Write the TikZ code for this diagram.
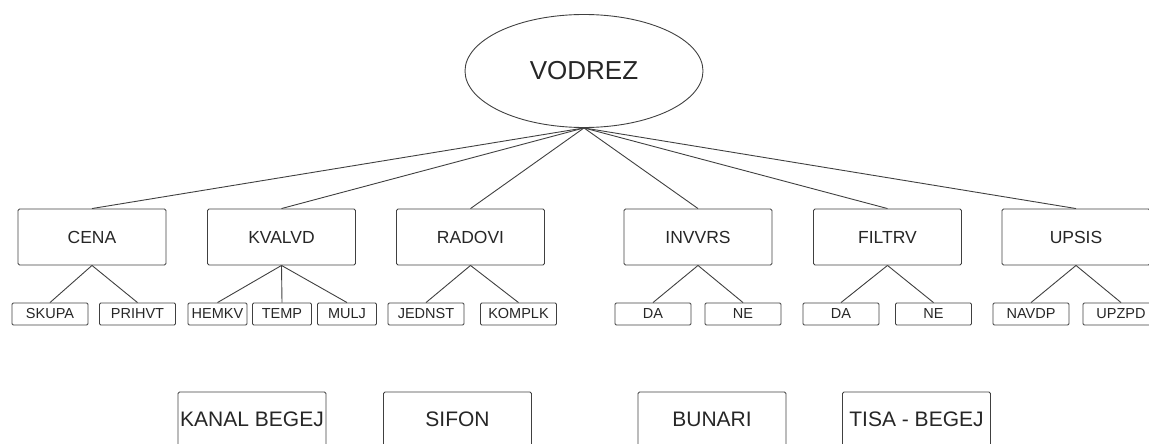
\documentclass[tikz,border=0pt]{standalone}
\usepackage{fontspec}
\setmainfont{Liberation Sans}
\usetikzlibrary{shapes.geometric}
\begin{document}
\begin{tikzpicture}[x=1pt,y=-1pt,
  every node/.style={text=black!85, inner sep=0pt},
  ln/.style={draw=black!75, line width=0.9pt},
  mainbox/.style={ln, rounded corners=1.5pt, minimum width=148pt, minimum height=56pt, font=\fontsize{17.5}{20}\selectfont},
  leafbox/.style={ln, rounded corners=1.2pt, minimum width=76pt, minimum height=22pt, font=\fontsize{14.5}{16}\selectfont},
  narrowleaf/.style={leafbox, minimum width=59pt},
  bottombox/.style={ln, rounded corners=1.5pt, minimum width=148pt, minimum height=54pt, font=\fontsize{21}{24}\selectfont},
  link/.style={ln}]
\useasboundingbox (0,0) rectangle (1149,444);
\clip (0,0) rectangle (1149,444);
\node[ellipse, ln, minimum width=238pt, minimum height=113pt, font=\fontsize{26}{30}\selectfont] (v) at (584,71) {VODREZ};
% main row
\node[mainbox] (cena) at (92,237) {CENA};
\node[mainbox] (kvalvd) at (281.5,237) {KVALVD};
\node[mainbox] (radovi) at (470.5,237) {RADOVI};
\node[mainbox] (invvrs) at (698,237) {INVVRS};
\node[mainbox] (filtrv) at (887.5,237) {FILTRV};
\node[mainbox] (upsis) at (1076,237) {UPSIS};
% leaves
\node[leafbox] (skupa) at (50,314) {SKUPA};
\node[leafbox] (prihvt) at (137.5,314) {PRIHVT};
\node[narrowleaf] (hemkv) at (217.5,314) {HEMKV};
\node[narrowleaf] (temp) at (282,314) {TEMP};
\node[narrowleaf] (mulj) at (347,314) {MULJ};
\node[leafbox] (jednst) at (426,314) {JEDNST};
\node[leafbox] (komplk) at (518.5,314) {KOMPLK};
\node[leafbox] (da1) at (653,314) {DA};
\node[leafbox] (ne1) at (743,314) {NE};
\node[leafbox] (da2) at (841,314) {DA};
\node[leafbox] (ne2) at (933.5,314) {NE};
\node[leafbox] (navdp) at (1031,314) {NAVDP};
\node[leafbox] (upzpd) at (1121,314) {UPZPD};
% bottom boxes
\node[bottombox] (kanal) at (252,419) {KANAL BEGEJ};
\node[bottombox] (sifon) at (457.5,419) {SIFON};
\node[bottombox] (bunari) at (712,419) {BUNARI};
\node[bottombox] (tisa) at (916.5,419) {TISA - BEGEJ};
% connectors
\foreach \n in {cena,kvalvd,radovi,invvrs,filtrv,upsis}
  \draw[link] (v.south) -- (\n.north);
\draw[link] (cena.south) -- (skupa.north);
\draw[link] (cena.south) -- (prihvt.north);
\draw[link] (kvalvd.south) -- (hemkv.north);
\draw[link] (kvalvd.south) -- (temp.north);
\draw[link] (kvalvd.south) -- (mulj.north);
\draw[link] (radovi.south) -- (jednst.north);
\draw[link] (radovi.south) -- (komplk.north);
\draw[link] (invvrs.south) -- (da1.north);
\draw[link] (invvrs.south) -- (ne1.north);
\draw[link] (filtrv.south) -- (da2.north);
\draw[link] (filtrv.south) -- (ne2.north);
\draw[link] (upsis.south) -- (navdp.north);
\draw[link] (upsis.south) -- (upzpd.north);
\end{tikzpicture}
\end{document}
